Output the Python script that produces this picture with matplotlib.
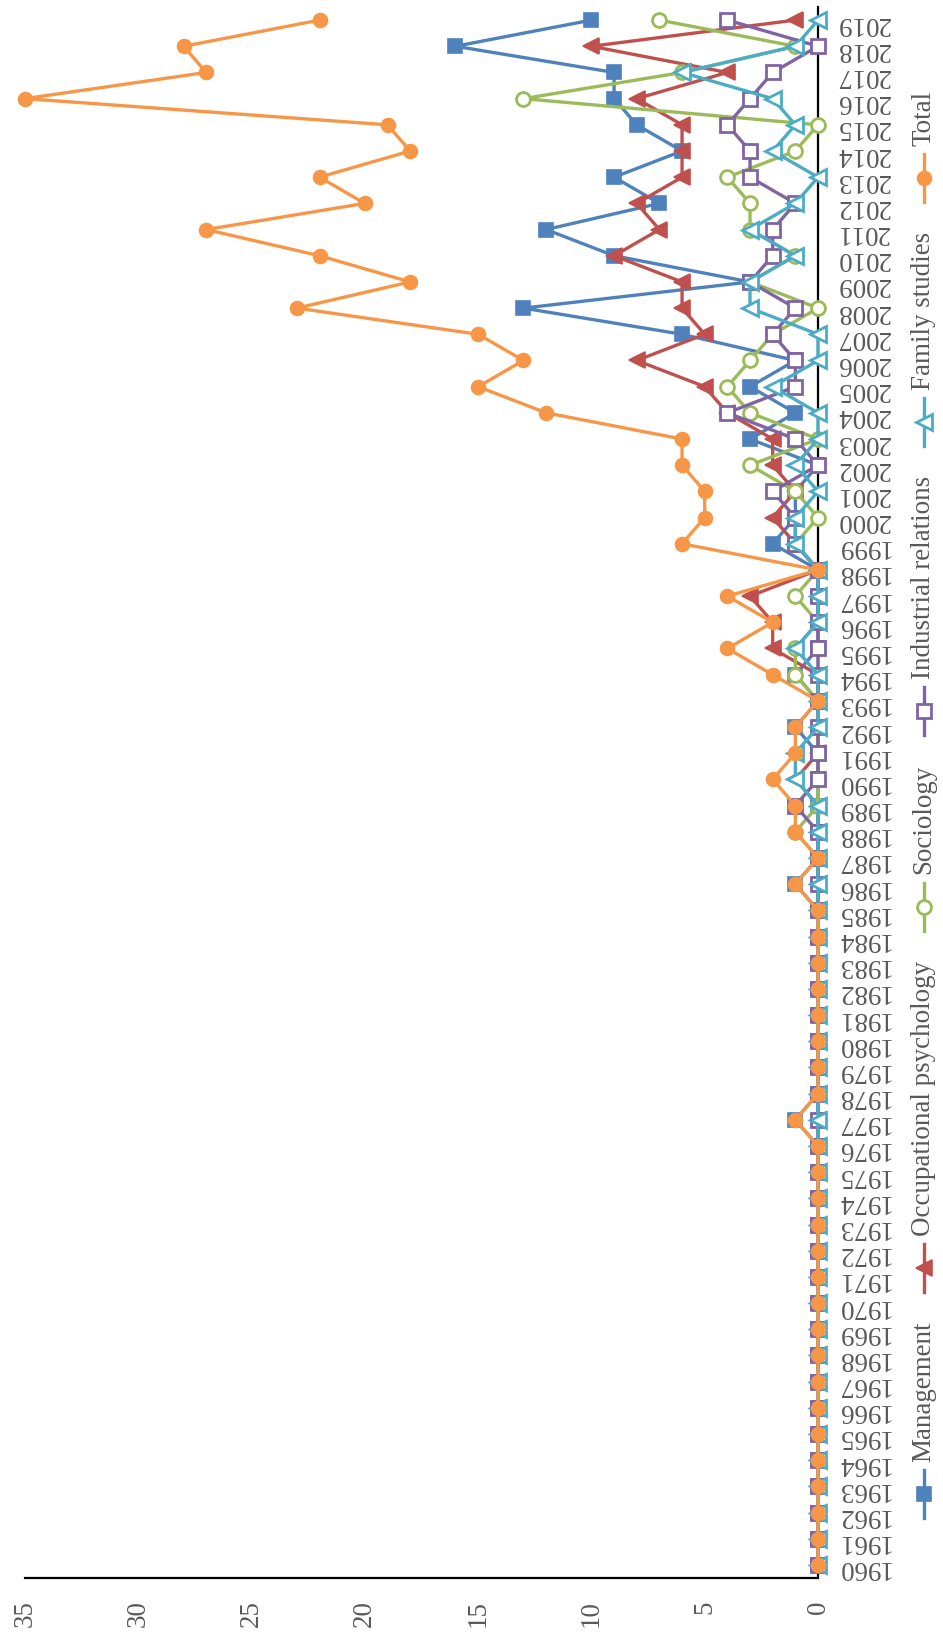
import glob
import matplotlib
matplotlib.use("Agg")
import matplotlib.pyplot as plt
from matplotlib import font_manager as fm
from matplotlib.lines import Line2D


def serif_family():
    """Return a Times-metric serif family name, registering its file if needed."""
    for f in fm.fontManager.ttflist:
        if f.name == "Liberation Serif" and f.style == "normal" and f.weight in (400, "normal", "regular"):
            return f.name
    patterns = ["/usr/share/fonts/**/LiberationSerif-Regular.ttf",
                "/usr/share/fonts/**/Times*.ttf",
                "/usr/share/fonts/**/NimbusRoman-Regular*"]
    for pat in patterns:
        hits = glob.glob(pat, recursive=True)
        if hits:
            fm.fontManager.addfont(hits[0])
            return fm.FontProperties(fname=hits[0]).get_name()
    return "DejaVu Serif"


plt.rcParams["font.family"] = [serif_family(), "DejaVu Serif"]

# Publications per year and field
years = list(range(1960, 2020))

management = [0, 0, 0, 0, 0, 0, 0, 0, 0, 0,
              0, 0, 0, 0, 0, 0, 0, 1, 0, 0,
              0, 0, 0, 0, 0, 0, 1, 0, 0, 0,
              0, 0, 1, 0, 1, 0, 0, 0, 0, 2,
              1, 1, 0, 3, 1, 3, 1, 6, 13, 3,
              9, 12, 7, 9, 6, 8, 9, 9, 16, 10]

occupational_psychology = [0, 0, 0, 0, 0, 0, 0, 0, 0, 0,
                           0, 0, 0, 0, 0, 0, 0, 0, 0, 0,
                           0, 0, 0, 0, 0, 0, 0, 0, 0, 0,
                           1, 0, 0, 0, 0, 2, 2, 3, 0, 1,
                           2, 1, 2, 2, 4, 5, 8, 5, 6, 6,
                           9, 7, 8, 6, 6, 6, 8, 4, 10, 1]

sociology = [0, 0, 0, 0, 0, 0, 0, 0, 0, 0,
             0, 0, 0, 0, 0, 0, 0, 0, 0, 0,
             0, 0, 0, 0, 0, 0, 0, 0, 1, 0,
             0, 0, 0, 0, 1, 1, 0, 1, 0, 1,
             0, 1, 3, 0, 3, 4, 3, 2, 0, 3,
             1, 3, 3, 4, 1, 0, 13, 6, 1, 7]

industrial_relations = [0, 0, 0, 0, 0, 0, 0, 0, 0, 0,
                        0, 0, 0, 0, 0, 0, 0, 0, 0, 0,
                        0, 0, 0, 0, 0, 0, 0, 0, 0, 1,
                        0, 0, 0, 0, 0, 0, 0, 0, 0, 1,
                        1, 2, 0, 1, 4, 1, 1, 2, 1, 3,
                        2, 2, 1, 3, 3, 4, 3, 2, 0, 4]

family_studies = [0, 0, 0, 0, 0, 0, 0, 0, 0, 0,
                  0, 0, 0, 0, 0, 0, 0, 0, 0, 0,
                  0, 0, 0, 0, 0, 0, 0, 0, 0, 0,
                  1, 1, 0, 0, 0, 1, 0, 0, 0, 1,
                  1, 0, 1, 0, 0, 2, 0, 0, 3, 3,
                  1, 3, 1, 0, 2, 1, 2, 6, 1, 0]

total = [0, 0, 0, 0, 0, 0, 0, 0, 0, 0,
         0, 0, 0, 0, 0, 0, 0, 1, 0, 0,
         0, 0, 0, 0, 0, 0, 1, 0, 1, 1,
         2, 1, 1, 0, 2, 4, 2, 4, 0, 6,
         5, 5, 6, 6, 12, 15, 13, 15, 23, 18,
         22, 27, 20, 22, 18, 19, 35, 27, 28, 22]

series_names = ["Management", "Occupational psychology", "Sociology",
                "Industrial relations", "Family studies", "Total"]
value_ticks = [0, 5, 10, 15, 20, 25, 30, 35]

series = [management, occupational_psychology, sociology,
          industrial_relations, family_studies, total]
styles = [
    dict(color="#4F81BD", marker="s", ms=10, mfc="#4F81BD", mew=1.2),
    dict(color="#C0504D", marker="<", ms=11, mfc="#C0504D", mew=1.2),
    dict(color="#9BBB59", marker="o", ms=10, mfc="white", mew=2.0),
    dict(color="#8064A2", marker="s", ms=10, mfc="white", mew=2.0),
    dict(color="#4BACC6", marker="<", ms=11, mfc="white", mew=2.0),
    dict(color="#F79646", marker="o", ms=10, mfc="#F79646", mew=1.2),
]

W, H = 943, 1634
fig = plt.figure(figsize=(W / 100, H / 100), dpi=100)
renderer = fig.canvas.get_renderer()

# pick the text size so that "Management" runs about 141 px
probe = fig.text(0, 0, "Management", fontsize=20)
probe_w = probe.get_window_extent(renderer=renderer).width
probe.remove()
fs = 20 * 141.0 / probe_w

# axes box in pixels (from top-left): value 35..0 across, years bottom-to-top
x_left, x_right = 25, 818
y_top, y_bottom = 7, 1578
ax = fig.add_axes([x_left / W, 1 - y_bottom / H,
                   (x_right - x_left) / W, (y_bottom - y_top) / H])

text_color = "#595959"

for vals, st in zip(series, styles):
    ax.plot(vals, years, color=st["color"], lw=2.4, marker=st["marker"],
            markersize=st["ms"], markerfacecolor=st["mfc"],
            markeredgecolor=st["color"], markeredgewidth=st["mew"],
            clip_on=False)

ax.set_xlim(35, 0)
ax.set_ylim(1959.5, 2019.5)

for side in ["top", "left"]:
    ax.spines[side].set_visible(False)
for side in ["bottom", "right"]:
    ax.spines[side].set_color("black")
    ax.spines[side].set_linewidth(1.6)
    ax.spines[side].set_zorder(0.5)

ax.set_yticks(years)
ax.set_yticklabels([str(y) for y in years])
ax.yaxis.tick_right()
ax.tick_params(axis="y", length=0, pad=13, labelsize=fs,
               labelcolor=text_color, labelrotation=180)

ax.set_xticks(value_ticks)
ax.set_xticklabels([str(v) for v in value_ticks])
ax.tick_params(axis="x", length=0, pad=16, labelsize=fs,
               labelcolor=text_color, labelrotation=90)
for lbl in ax.get_xticklabels():
    lbl.set_verticalalignment("top")

# Legend running up the right edge, read bottom-to-top
leg_x = 924
cursor = 1518
line_len, line_gap, entry_gap = 48, 8, 30
for name, st in zip(series_names, styles):
    y1, y2 = cursor, cursor - line_len
    ym = (y1 + y2) / 2
    handle = Line2D([leg_x / W] * 3,
                    [1 - y1 / H, 1 - ym / H, 1 - y2 / H],
                    transform=fig.transFigure, color=st["color"], lw=2.4,
                    marker=st["marker"], markevery=[1], markersize=st["ms"],
                    markerfacecolor=st["mfc"], markeredgecolor=st["color"],
                    markeredgewidth=st["mew"])
    fig.add_artist(handle)
    t_start = y2 - line_gap
    txt = fig.text(leg_x / W, 1 - t_start / H, name, rotation=90,
                   rotation_mode="anchor", ha="left", va="center",
                   fontsize=fs, color=text_color)
    ext = txt.get_window_extent(renderer=renderer)
    cursor = t_start - ext.height - entry_gap

fig.savefig("out.png", dpi=100)
